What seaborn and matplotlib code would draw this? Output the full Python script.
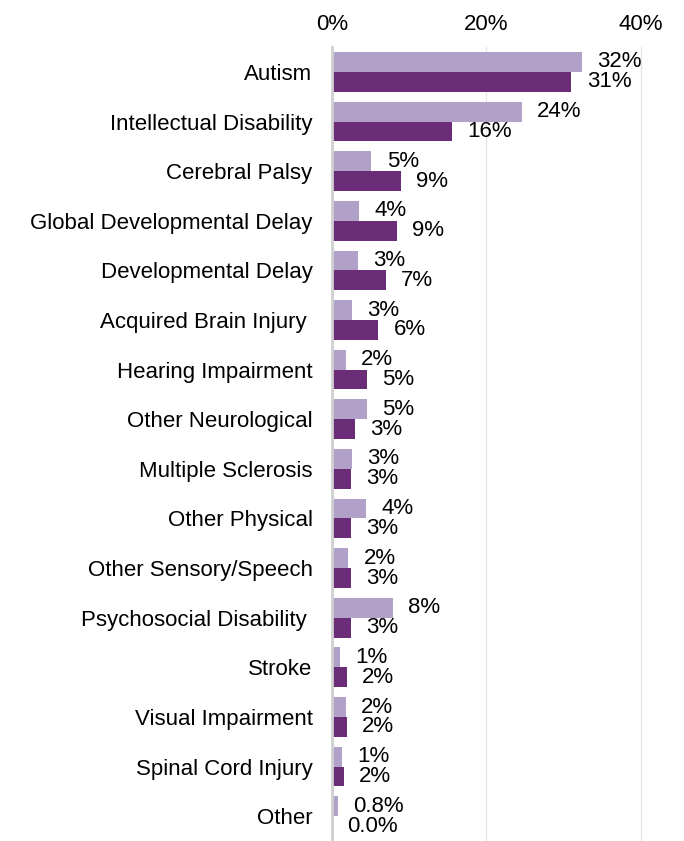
import pandas as pd
import matplotlib.pyplot as plt
import seaborn as sns

categories = ["Autism", "Intellectual Disability", "Cerebral Palsy",
              "Global Developmental Delay", "Developmental Delay",
              "Acquired Brain Injury ", "Hearing Impairment", "Other Neurological",
              "Multiple Sclerosis", "Other Physical", "Other Sensory/Speech",
              "Psychosocial Disability ", "Stroke", "Visual Impairment",
              "Spinal Cord Injury", "Other"]
# light series / dark series, percent
light_vals = [32.4, 24.6, 5.1, 3.5, 3.4, 2.6, 1.8, 4.5, 2.6, 4.4, 2.1, 7.9, 1.0, 1.8, 1.3, 0.8]
dark_vals = [31.0, 15.5, 8.9, 8.4, 7.0, 6.0, 4.5, 3.0, 2.5, 2.5, 2.5, 2.5, 1.9, 1.9, 1.5, 0.0]
light_labels = ["32%", "24%", "5%", "4%", "3%", "3%", "2%", "5%", "3%", "4%", "2%", "8%", "1%", "2%", "1%", "0.8%"]
dark_labels = ["31%", "16%", "9%", "9%", "7%", "6%", "5%", "3%", "3%", "3%", "3%", "3%", "2%", "2%", "2%", "0.0%"]
series = ["Series 1", "Series 2"]
x_ticks = [0, 20, 40]

df = pd.DataFrame({
    "Category": categories * 2,
    "Series": [series[0]] * len(categories) + [series[1]] * len(categories),
    "Value": light_vals + dark_vals,
})

sns.set_style("white")
plt.rcParams["font.family"] = ["Liberation Sans", "DejaVu Sans"]
plt.rcParams["text.color"] = "black"
plt.rcParams["xtick.color"] = "black"
plt.rcParams["ytick.color"] = "black"

fig = plt.figure(figsize=(6.84, 8.41), dpi=100)
ax = fig.add_axes([0.4854, 0.0, 0.4854, 0.944])

sns.barplot(data=df, y="Category", x="Value", hue="Series", orient="h",
            palette=["#B1A0C8", "#6B2D78"], width=0.8, saturation=1,
            linewidth=0, legend=False, ax=ax)

for cont, labs in zip(ax.containers, [light_labels, dark_labels]):
    ax.bar_label(cont, labels=labs, padding=11, fontsize=16, color="black")

ax.set_xlim(0, 43)
ax.set_xticks(x_ticks)
ax.set_xticklabels([f"{t}%" for t in x_ticks], fontsize=16)
ax.xaxis.tick_top()
ax.tick_params(axis="x", length=0, pad=9)
ax.tick_params(axis="y", length=0, labelsize=16, pad=14)
ax.set_xlabel("")
ax.set_ylabel("")
ax.grid(axis="x", color="#E6E6E6", linewidth=1)
ax.set_axisbelow(True)
for s in ["top", "right", "bottom"]:
    ax.spines[s].set_visible(False)
ax.spines["left"].set_color("#D0D0D0")
ax.spines["left"].set_linewidth(2)

fig.savefig("out.png", dpi=100)
